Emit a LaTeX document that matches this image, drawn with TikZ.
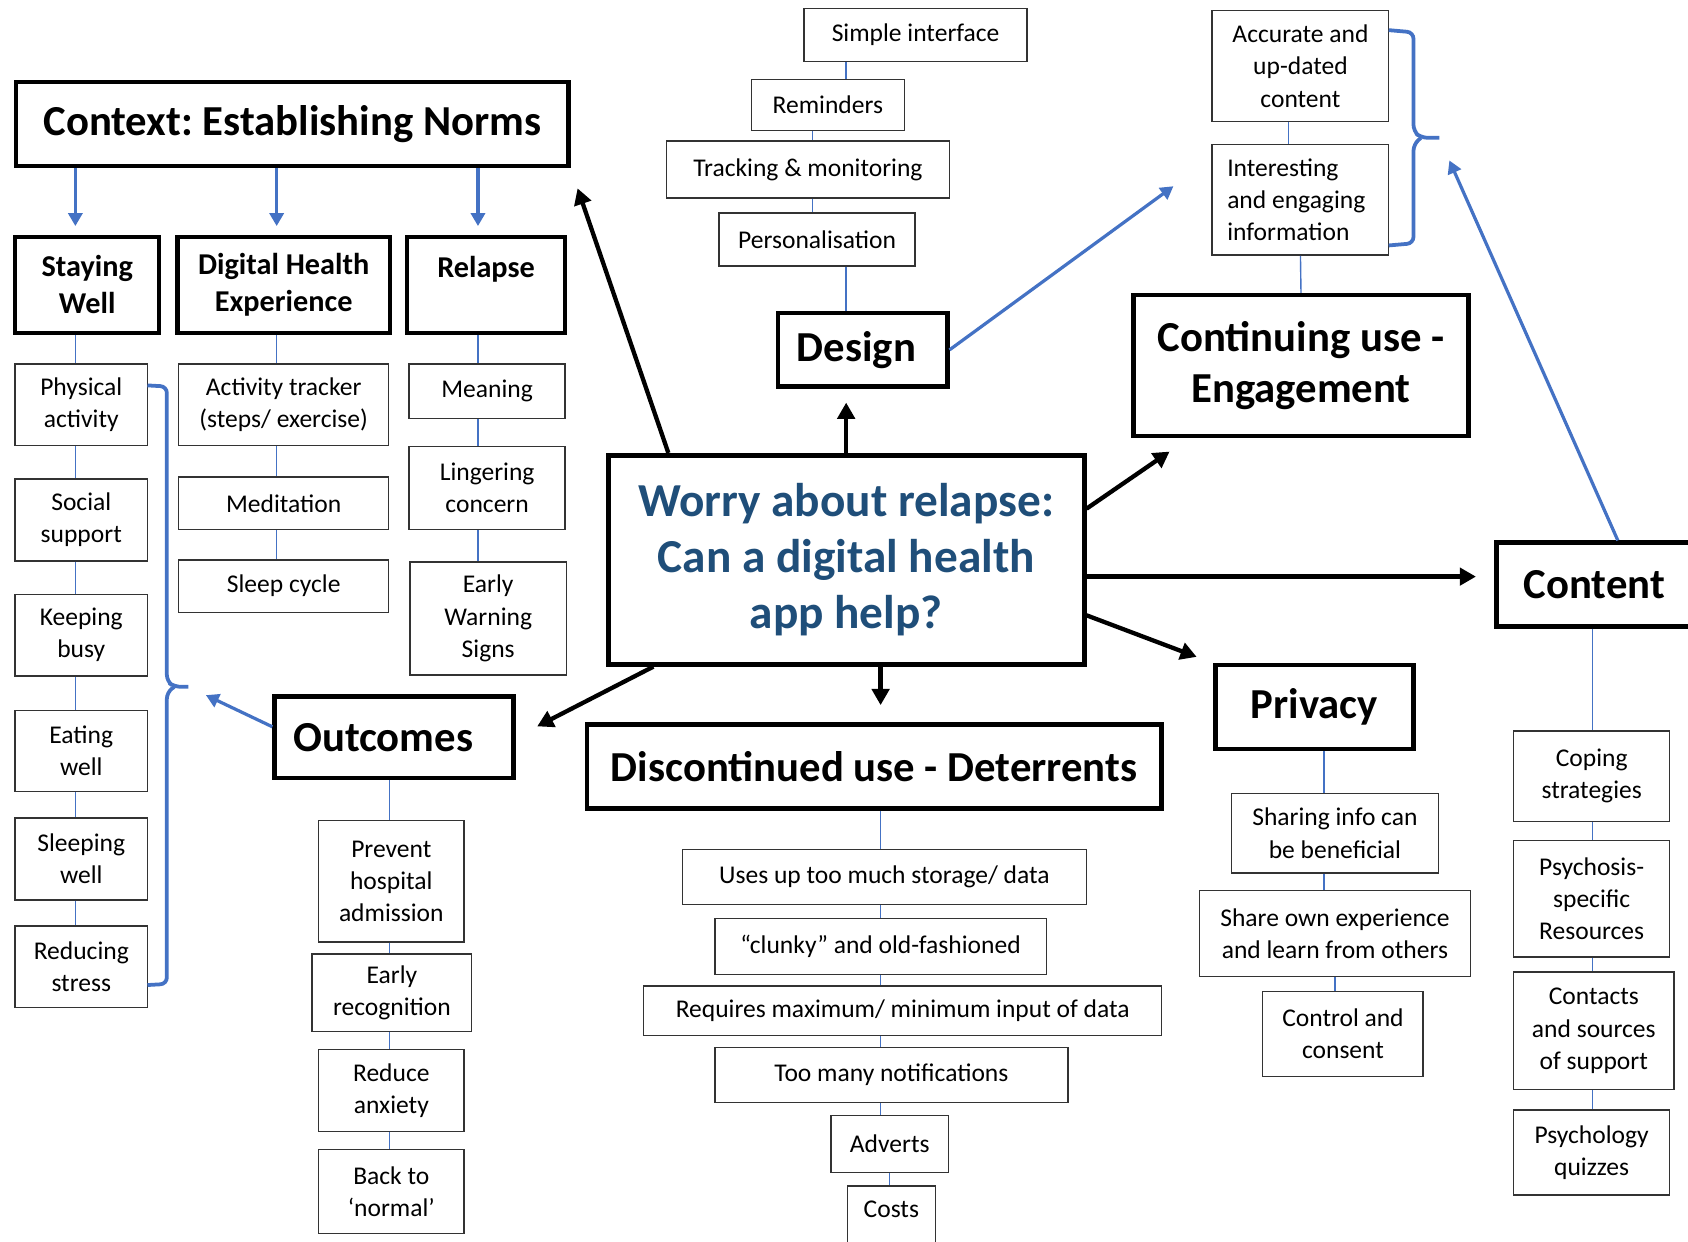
\documentclass[tikz,border=0pt]{standalone}
\usepackage{fontspec}
\setmainfont{Carlito}
\usetikzlibrary{arrows.meta}
\definecolor{linkblue}{RGB}{68,114,196}
\definecolor{worryblue}{RGB}{31,78,121}
\frenchspacing

\begin{document}
\begin{tikzpicture}[x=0.02cm, y=-0.02cm,
    wh/.style 2 args={minimum width=#1*0.02cm, minimum height=#2*0.02cm},
    item/.style={draw=black!80, line width=0.026cm, inner sep=0pt, align=center,
                 font=\fontsize{13.5}{17}\selectfont},
    head/.style={draw, line width=0.08cm, inner sep=0pt, align=center,
                 font=\bfseries\fontsize{22.6}{26.7}\selectfont},
    subhead/.style={draw, line width=0.08cm, inner sep=0pt, align=center,
                 font=\bfseries\fontsize{16}{19.4}\selectfont},
    link/.style={linkblue, line width=0.026cm},
    bluearrow/.style={linkblue, line width=0.06cm, -{Triangle[length=0.24cm, width=0.26cm]}},
    bigarrow/.style={black, line width=0.08cm, -{Triangle[length=0.3cm, width=0.32cm]}},
    bracket/.style={linkblue, line width=0.07cm, rounded corners=0.12cm}]

    \useasboundingbox (0,0) rectangle (1568,1153);

    % Context (top left)
    \node[head, wh={513}{78}] (context) at (271.5,115) {Context: Establishing Norms};
    \node[subhead, wh={134}{89}] (stay) at (81,264.5) {Staying\\Well};
    \node[subhead, wh={197}{89}] (dhe) at (263.5,264.5) {Digital Health\\Experience};
    \node[subhead, wh={147}{89}] (relapse) at (451.5,264.5) {Relapse\\\mbox{}};

    \coordinate (xsw) at (70,0);
    \coordinate (xdh) at (257,0);
    \coordinate (xrl) at (444,0);
    \foreach \c/\n in {xsw/stay, xdh/dhe, xrl/relapse}
        \draw[bluearrow, shorten >=0.16cm] (context.south -| \c) -- (\n.north -| \c);

    % Staying well
    \node[item, wh={123}{76}] (phys) at (75.5,376) {Physical\\activity};
    \node[item, wh={123}{76}] (social) at (75.5,483) {Social\\support};
    \node[item, wh={123}{76}] (busy) at (75.5,590) {Keeping\\busy};
    \node[item, wh={123}{75}] (eating) at (75.5,697.5) {Eating\\well};
    \node[item, wh={123}{76}] (sleeping) at (75.5,798) {Sleeping\\well};
    \node[item, wh={123}{76}] (stress) at (75.5,898) {Reducing\\stress};
    \foreach \a/\b in {stay/phys, phys/social, social/busy, busy/eating, eating/sleeping, sleeping/stress}
        \draw[link] (\a.south -| xsw) -- (\b.north -| xsw);

    % Digital health experience
    \node[item, wh={195}{76}] (tracker) at (263.5,376) {Activity tracker\\(steps/ exercise)};
    \node[item, wh={195}{49}] (medit) at (263.5,467.5) {Meditation};
    \node[item, wh={195}{49}] (sleepcyc) at (263.5,544.5) {Sleep cycle};
    \foreach \a/\b in {dhe/tracker, tracker/medit, medit/sleepcyc}
        \draw[link] (\a.south -| xdh) -- (\b.north -| xdh);

    % Relapse
    \node[item, wh={145}{51}] (meaning) at (452.5,363.5) {Meaning};
    \node[item, wh={145}{77}] (linger) at (452.5,453.5) {Lingering\\concern};
    \node[item, wh={145}{105}] (warning) at (453.5,574.5) {Early\\Warning\\Signs};
    \foreach \a/\b in {relapse/meaning, meaning/linger, linger/warning}
        \draw[link] (\a.south -| xrl) -- (\b.north -| xrl);

    % Brace round the staying well list
    \draw[bracket] (137,358) -- (155,359) -- (155,633) -- (162,638) -- (175,638);
    \draw[bracket] (162,638) -- (155,643) -- (155,914) -- (137,915);
    \coordinate (swtip) at (175,638);

    % Outcomes
    \node[head, wh={222}{76}] (outcomes) at (366,685) {Outcomes\hspace*{0.4cm}};
    \node[item, wh={135}{113}] (prevent) at (363.5,818.5) {Prevent\\hospital\\admission};
    \node[item, wh={148}{72}] (recog) at (364,922) {Early\\recognition};
    \node[item, wh={135}{76}] (anxiety) at (363.5,1013) {Reduce\\anxiety};
    \node[item, wh={135}{78}] (normal) at (363.5,1107) {Back to\\‘normal’};
    \coordinate (xoc) at (362,0);
    \foreach \a/\b in {outcomes/prevent, prevent/recog, recog/anxiety, anxiety/normal}
        \draw[link] (\a.south -| xoc) -- (\b.north -| xoc);
    \draw[bluearrow, shorten >=0.36cm] (outcomes.175) -- (swtip);

    % Central question
    \node[draw, line width=0.09cm, wh={442}{194}, inner sep=0pt, align=center, text=worryblue,
          font=\bfseries\fontsize{25}{29.6}\selectfont] (worry) at (786,520)
          {Worry about relapse:\\Can a digital health\\app help?};

    % Design
    \node[head, wh={157}{68}] (design) at (801.5,325) {Design\hspace*{0.24cm}};
    \node[item, wh={182}{49}] (pers) at (759,222.5) {Personalisation};
    \node[item, wh={263}{53}] (track) at (750.5,157.5) {Tracking \& monitoring};
    \node[item, wh={142}{47}] (remind) at (769,97.5) {Reminders};
    \node[item, wh={207}{49}] (simple) at (850.5,32.5) {Simple interface};
    \coordinate (xds) at (786,0);
    \coordinate (xds2) at (755,0);
    \draw[link] (simple.south -| xds) -- (remind.north -| xds);
    \draw[link] (remind.south -| xds2) -- (track.north -| xds2);
    \draw[link] (track.south -| xds2) -- (pers.north -| xds2);
    \draw[link] (pers.south -| xds) -- (design.north -| xds);

    % Continuing use
    \node[head, wh={311}{131}] (engage) at (1208.5,339.5) {Continuing use -\\Engagement};
    \node[item, wh={164}{103}] (accurate) at (1208,61.5) {Accurate and\\up-dated\\content};
    \node[item, minimum height=103*0.02cm, text width=136*0.02cm, inner xsep=0.28cm, align=flush left]
          (interest) at (1208,185.5) {Interesting\\and engaging\\information};
    \coordinate (xen) at (1197,0);
    \draw[link] (accurate.south -| xen) -- (interest.north -| xen);
    \draw[link] (interest.south) -- (engage.north);
    \draw[bracket] (1290,28) -- (1313,30) -- (1313,122) -- (1320,128) -- (1337,128);
    \draw[bracket] (1320,128) -- (1313,134) -- (1313,226) -- (1290,228);
    \coordinate (bracetip) at (1337,128);
    \coordinate (designtip) at (1090,173);
    \draw[bluearrow] (design.east) -- (designtip);

    % Content
    \node[head, wh={182}{78}] (content) at (1481,543) {Content};
    \node[item, wh={145}{84}] (coping) at (1478.5,721) {Coping\\strategies};
    \node[item, wh={145}{108}] (psychres) at (1478.5,835) {Psychosis-\\specific\\Resources};
    \node[item, wh={149}{109}] (contacts) at (1480.5,957.5) {Contacts\\and sources\\of support};
    \node[item, wh={145}{79}] (quiz) at (1478.5,1070.5) {Psychology\\quizzes};
    \coordinate (xct) at (1479,0);
    \foreach \a/\b in {content/coping, coping/psychres, psychres/contacts, contacts/quiz}
        \draw[link] (\a.south -| xct) -- (\b.north -| xct);
    \draw[bluearrow, shorten >=0.46cm] (content.62) -- (bracetip);

    % Privacy
    \node[head, wh={184}{78}] (privacy) at (1221,657) {Privacy};
    \node[item, wh={192}{74}] (sharing) at (1240,774) {Sharing info can\\be beneficial};
    \node[item, wh={252}{80}] (shareown) at (1240,867) {Share own experience\\and learn from others};
    \node[item, wh={149}{79}] (consent) at (1247.5,960.5) {Control and\\consent};
    \coordinate (xpv) at (1230,0);
    \draw[link] (privacy.south -| xpv) -- (sharing.north -| xpv);
    \draw[link] (sharing.south -| xpv) -- (shareown.north -| xpv);
    \draw[link] (shareown.south) -- (shareown.south |- consent.north);

    % Discontinued use
    \node[head, wh={534}{78}] (deter) at (812,712) {Discontinued use - Deterrents};
    \node[item, wh={375}{51}] (storage) at (821.5,814.5) {Uses up too much storage/ data};
    \node[item, wh={308}{52}] (clunky) at (818,879) {“clunky” and old-fashioned};
    \node[item, wh={481}{46}] (maxmin) at (838.5,939) {Requires maximum/ minimum input of data};
    \node[item, wh={328}{51}] (notif) at (828,998.5) {Too many notifications};
    \node[item, wh={109}{53}] (adverts) at (826.5,1062.5) {Adverts};
    \node[item, minimum width=82*0.02cm, anchor=north, inner ysep=0.28cm, text depth=0.8cm]
          (costs) at (828,1101) {Costs};
    \coordinate (xdc) at (818,0);
    \foreach \a/\b in {deter/storage, storage/clunky, clunky/maxmin, maxmin/notif, notif/adverts}
        \draw[link] (\a.south -| xdc) -- (\b.north -| xdc);
    \draw[link] (adverts.south) -- (adverts.south |- costs.north);

    % Arrows out of the central question
    \draw[bigarrow, shorten >=0.4cm] (worry.149) -- (context.south east);
    \draw[bigarrow, shorten >=0.26cm] (worry.north) -- (worry.north |- design.south);
    \draw[bigarrow, shorten >=0.44cm] (worry.12) -- (engage.213);
    \draw[bigarrow, shorten >=0.34cm] (worry.356) -- (worry.356 -| content.west);
    \draw[bigarrow, shorten >=0.33cm] (worry.347) -- (privacy.north west);
    \draw[bigarrow, shorten >=0.32cm] (worry.south -| xdc) -- (deter.north -| xdc);
    \draw[bigarrow, shorten >=0.45cm] (worry.209) -- (outcomes.east);
\end{tikzpicture}
\end{document}
